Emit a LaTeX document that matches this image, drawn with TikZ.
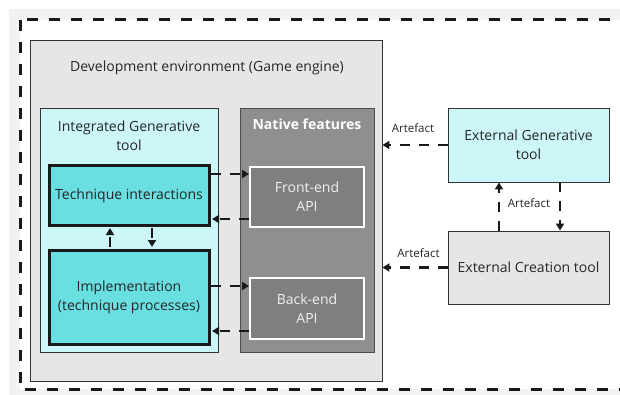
\documentclass[tikz,border=0pt]{standalone}
\usepackage{fontspec}
\setmainfont{Open Sans}
\usetikzlibrary{arrows.meta}
\definecolor{bgc}{HTML}{F2F2F2}
\definecolor{devc}{HTML}{E6E6E6}
\definecolor{lcyan}{HTML}{CCF6F8}
\definecolor{dcyan}{HTML}{69DFE2}
\definecolor{natc}{HTML}{8F8F8F}
\definecolor{apic}{HTML}{7F7F7F}
\definecolor{edgec}{HTML}{333333}
\definecolor{txtc}{HTML}{262626}
\begin{document}
\begin{tikzpicture}[x=1pt,y=-1pt,
  box/.style={draw=edgec, line width=0.9pt, inner sep=0pt, align=center, text=txtc,
    font=\fontsize{14}{19}\selectfont},
  thickbox/.style={box, draw=black!90, line width=3pt, fill=dcyan},
  apibox/.style={box, draw=white, line width=2pt, fill=apic, text=white!94!black},
  plain/.style={inner sep=0pt, align=center, text=txtc, font=\fontsize{14}{19}\selectfont},
  lbl/.style={inner sep=1pt, text=txtc, font=\fontsize{11.5}{14}\selectfont},
  arr/.style={draw=black!90, line width=2.5pt, dash pattern=on 10pt off 9pt,
    -{Triangle[length=7pt,width=8pt]}}
]
\useasboundingbox (0,0) rectangle (620,395);
\fill[white] (0,0) rectangle (620,395);
\fill[bgc] (9,9) rectangle (620,395);
\draw[fill=white, line width=3pt, draw=black!90, dash pattern=on 11pt off 11pt] (20,20) rectangle (650,389);

\node[box, fill=devc, minimum width=352pt, minimum height=341pt] (dev) at (206,210.5) {};
\node[plain] (devlabel) at (207,68) {Development environment (Game engine)};

\node[box, fill=lcyan, minimum width=178pt, minimum height=244pt] (int) at (129,230) {};
\node[plain] (intlabel) at (129,135.5) {Integrated Generative\\tool};

\node[thickbox, minimum width=160pt, minimum height=59pt] (tech) at (129,195.5) {Technique interactions};
\node[thickbox, minimum width=160pt, minimum height=94pt] (impl) at (129,297) {Implementation\\(technique processes)};

\node[box, fill=natc, draw=black!70, minimum width=134pt, minimum height=244pt] (nat) at (307,230) {};
\node[plain, text=white, font=\fontsize{14}{19}\selectfont\bfseries] (natlabel) at (307,124) {Native features};

\node[apibox, minimum width=114pt, minimum height=60pt] (front) at (307,197) {Front-end\\API};
\node[apibox, minimum width=114pt, minimum height=61pt] (back) at (307,308.5) {Back-end\\API};

\node[box, fill=lcyan, minimum width=161pt, minimum height=74pt] (extgen) at (528.5,145) {External Generative\\tool};
\node[box, fill=devc, minimum width=161pt, minimum height=73pt] (extcre) at (528.5,267.5) {External Creation tool};

% inner arrows
\draw[arr] (tech.east |- 0,174) -- (front.west |- 0,174);
\draw[arr] (front.west |- 0,219) -- ([xshift=1.5pt]tech.east |- 0,219);
\draw[arr] (impl.east |- 0,286) -- (back.west |- 0,286);
\draw[arr] (back.west |- 0,331) -- ([xshift=1.5pt]impl.east |- 0,331);
\draw[arr] ([yshift=1.5pt]impl.north -| 110,0) -- ([yshift=-1.5pt]tech.south -| 110,0);
\draw[arr] ([yshift=-1.5pt]tech.south -| 152,0) -- ([yshift=1.5pt]impl.north -| 152,0);

% external arrows
\draw[arr] (extgen.west) -- (dev.east |- extgen.west);
\draw[arr] (extcre.west) -- (dev.east |- extcre.west);
\draw[arr] (extcre.north -| 499,0) -- (extgen.south -| 499,0);
\draw[arr] (extgen.south -| 560,0) -- (extcre.north -| 560,0);
\node[lbl] (a1) at (413,128) {Artefact};
\node[lbl] (a2) at (418.5,253) {Artefact};
\node[lbl] (a3) at (529,203) {Artefact};
\end{tikzpicture}
\end{document}
